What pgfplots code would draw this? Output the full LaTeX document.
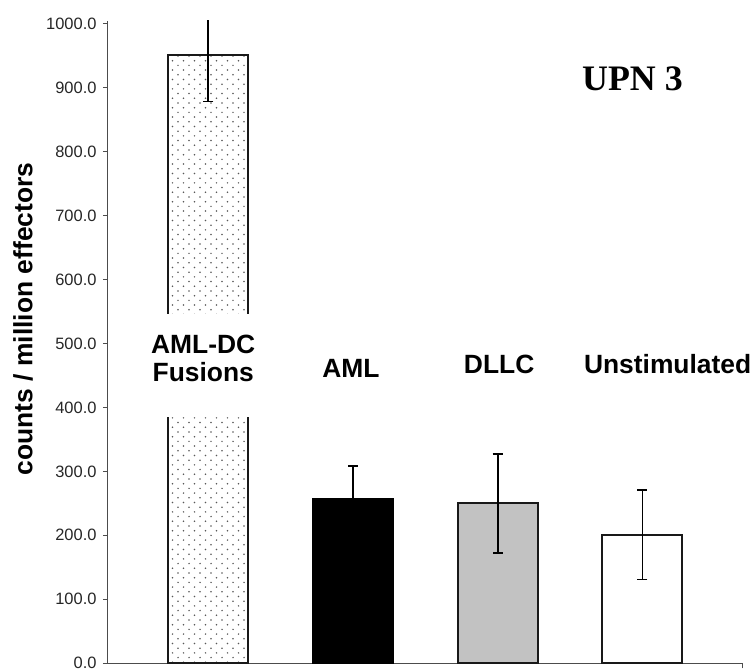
\documentclass[border=0pt]{standalone}
\usepackage{fontspec}
\setmainfont{Liberation Sans}
\newfontfamily\serifb{Liberation Serif}
\usepackage{pgfplots}
\pgfplotsset{compat=1.18}
\usetikzlibrary{patterns}
\pgfdeclarepatternformonly{sparsedots}{\pgfqpoint{-1bp}{-1bp}}{\pgfqpoint{12bp}{10.4bp}}{\pgfqpoint{11bp}{9.4bp}}{%
  \pgfpathcircle{\pgfqpoint{2bp}{2bp}}{0.85bp}%
  \pgfpathcircle{\pgfqpoint{7.5bp}{6.7bp}}{0.85bp}%
  \pgfusepath{fill}%
}
\begin{document}
\begin{tikzpicture}
\begin{axis}[
  at={(0,0)}, anchor=south west,
  scale only axis, width=634bp, height=642.4bp,
  xmin=-0.693, xmax=3.688, ymin=0, ymax=1004,
  axis x line*=bottom, axis y line*=left,
  ytick={0,100,...,1000},
  /pgf/number format/.cd, fixed, fixed zerofill, precision=1, 1000 sep={}, assume math mode=true, /pgfplots/.cd,
  tick label style={font=\fontsize{16.5}{19}\selectfont, text=black!85},
  yticklabel style={xshift=-3bp},
  tick align=outside, major tick length=5bp,
  tick style={black!70, line width=1bp},
  axis line style={black!70, line width=1bp},
  xtick={3.688}, xticklabels={},
  ybar, bar width=0.553,
  clip mode=individual,
  error bars/y dir=both, error bars/y explicit,
  error bars/error bar style={line width=1.8bp, black},
  error bars/error mark options={rotate=90, mark size=5bp, line width=1.8bp, black},
]
\addplot[pattern=sparsedots, pattern color=black!65, draw=black!90, line width=2bp, bar shift=0pt]
  coordinates {(0,950) +- (0,72)};
\addplot[fill=black, draw=black, line width=2bp, bar shift=0pt]
  coordinates {(1,257) +- (0,51)};
\addplot[fill=black!24, draw=black!90, line width=2bp, bar shift=0pt]
  coordinates {(2,250) +- (0,77)};
\addplot[fill=white, draw=black!90, line width=2bp, bar shift=0pt]
  coordinates {(3,201) +- (0,70)};
\fill[white] (axis cs:-0.33,385) rectangle (axis cs:0.33,546);
\node[anchor=base, font=\bfseries\fontsize{26.5}{30}\selectfont] at (axis cs:-0.035,484.5) {AML-DC};
\node[anchor=base, font=\bfseries\fontsize{26.5}{30}\selectfont] at (axis cs:-0.035,439.7) {Fusions};
\node[anchor=base, font=\bfseries\fontsize{26.5}{30}\selectfont] at (axis cs:0.986,446.9) {AML};
\node[anchor=base, font=\bfseries\fontsize{26.5}{30}\selectfont] at (axis cs:2.010,453.1) {DLLC};
\node[anchor=base, font=\bfseries\fontsize{26.5}{30}\selectfont] at (axis cs:3.174,453.1) {Unstimulated};
\node[anchor=base, font=\serifb\bfseries\fontsize{36}{40}\selectfont] at (axis cs:2.931,895) {UPN 3};
\end{axis}
\node[rotate=90, font=\bfseries\fontsize{26.5}{30}\selectfont] at (-85bp,344.3bp) {counts / million effectors};
\pgfresetboundingbox
\path[use as bounding box] (-108bp,-5.7bp) rectangle (646bp,663.3bp);
\end{tikzpicture}
\end{document}
